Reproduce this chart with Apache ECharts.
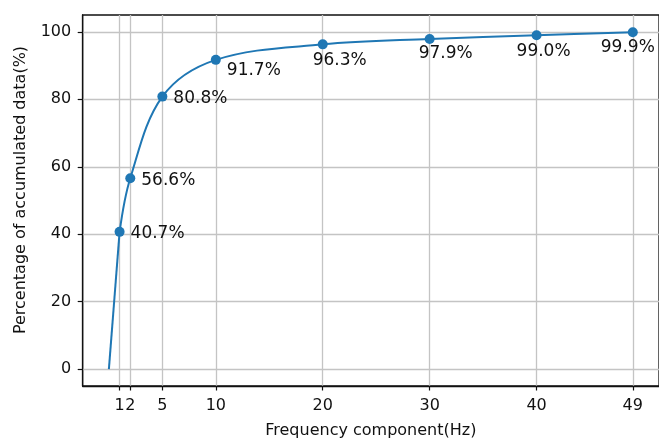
<!DOCTYPE html>
<html>
<head>
<meta charset="utf-8">
<script src="https://cdn.jsdelivr.net/npm/echarts@6/dist/echarts.min.js"></script>
<style>
  html, body { margin: 0; padding: 0; background: #fff; }
  #main { width: 659px; height: 444px; }
</style>
</head>
<body>
<div id="main"></div>
<script>
// data
var freq = [0, 1, 2, 5, 10, 20, 30, 40, 49]
var percent = [0, 40.7, 56.6, 80.8, 91.7, 96.3, 97.9, 99.0, 99.9]
var xTicks = [1, 2, 5, 10, 20, 30, 40, 49]
var yTicks = [0, 20, 40, 60, 80, 100]

// label offsets (left edge / vertical centre from the marker), style only
var labelOffsets = [[11, 2], [11, 2], [11, 2], [11, 11], [-10, 16], [-11, 15], [-20, 16], [-32, 15]]

var blue = '#1f77b4'
var font = 'DejaVu Sans'
var ink = '#111'

var chart = echarts.init(document.getElementById('main'))

var curve = freq.map(function (f, i) { return [f, percent[i]] })
var marks = []
for (var i = 1; i < freq.length; i++) {
    marks.push({
        value: [freq[i], percent[i]],
        label: {
            show: true,
            position: 'inside',
            align: 'left',
            verticalAlign: 'middle',
            offset: labelOffsets[i - 1],
            formatter: percent[i].toFixed(1) + '%',
            color: ink,
            fontSize: 17,
            fontFamily: font
        }
    })
}

var option = {
    animation: false,
    grid: {
        left: 82.7,
        right: -2.3,
        top: 15,
        bottom: 51.5,
        show: true,
        borderColor: ink,
        borderWidth: 1.3
    },
    xAxis: {
        type: 'value',
        min: -2.45,
        max: 51.45,
        name: 'Frequency component(Hz)',
        nameLocation: 'middle',
        nameGap: 37,
        nameTextStyle: { fontSize: 16, fontFamily: font, color: ink },
        axisLine: { show: true, onZero: false, lineStyle: { color: ink, width: 1.3 } },
        axisTick: { show: true, length: 4.5, lineStyle: { color: ink, width: 1.2 }, customValues: xTicks },
        axisLabel: { margin: 12, fontSize: 16, fontFamily: font, color: ink, customValues: xTicks },
        splitLine: { show: true, lineStyle: { color: '#c4c4c4', width: 1.3 } }
    },
    yAxis: {
        type: 'value',
        min: -5,
        max: 105,
        axisLine: { show: true, onZero: false, lineStyle: { color: ink, width: 1.3 } },
        axisTick: { show: true, length: 5, lineStyle: { color: ink, width: 1.2 }, customValues: yTicks },
        axisLabel: { margin: 11.5, fontSize: 16, fontFamily: font, color: ink, customValues: yTicks },
        splitLine: { show: true, lineStyle: { color: '#c4c4c4', width: 1.3 } }
    },
    graphic: [{
        type: 'text',
        x: 21,
        y: 190,
        rotation: Math.PI / 2,
        style: {
            text: 'Percentage of accumulated data(%)',
            fontSize: 16,
            fontFamily: font,
            fill: ink,
            align: 'center',
            verticalAlign: 'middle'
        }
    }],
    series: [
        {
            // first step from the origin is almost straight
            type: 'line',
            data: curve.slice(0, 2),
            showSymbol: false,
            lineStyle: { color: blue, width: 2 },
            z: 3
        },
        {
            type: 'line',
            data: curve.slice(1),
            smooth: 0.35,
            showSymbol: false,
            lineStyle: { color: blue, width: 2 },
            z: 3
        },
        {
            type: 'scatter',
            data: marks,
            symbolSize: 10,
            itemStyle: { color: blue, opacity: 1 },
            z: 4
        }
    ]
}
chart.setOption(option)
</script>
</body>
</html>
